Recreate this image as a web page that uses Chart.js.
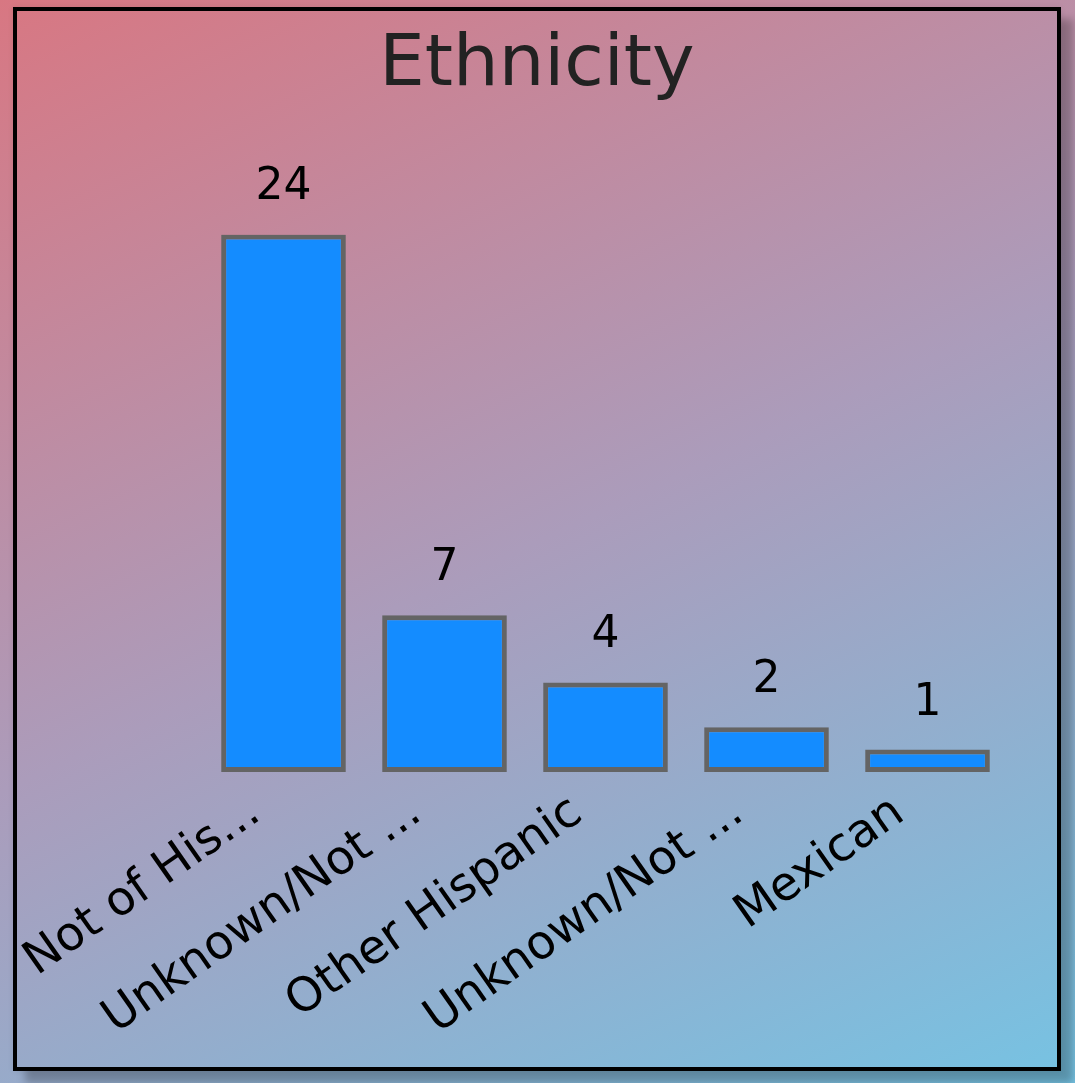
<!DOCTYPE html>
<html>
<head>
<meta charset="utf-8">
<script src="https://cdn.jsdelivr.net/npm/chart.js@4.4.0/dist/chart.umd.min.js"></script>
<style>
  html, body { margin: 0; padding: 0; width: 1075px; height: 1083px; overflow: hidden; }
  body { background: linear-gradient(155deg, #d87782 0%, #ab9cbb 50%, #76c3e3 100%); position: relative; }
  #frame { position: absolute; left: 13px; top: 7px; width: 1040px; height: 1056px; border: 4px solid #000;
           box-shadow: 12px 12px 8px rgba(0,0,0,0.25), 0 0 6px rgba(0,0,0,0.08); }
  canvas { display: block; }
</style>
</head>
<body>
<div id="frame"><canvas id="c" width="1040" height="1056"></canvas></div>
<script>
const categories = ["Not of His...", "Unknown/Not ...", "Other Hispanic", "Unknown/Not ...", "Mexican"];
const counts = [24, 7, 4, 2, 1];
const chartTitle = "Ethnicity";

const valueLabels = {
  id: 'valueLabels',
  afterDatasetsDraw(chart) {
    const ctx = chart.ctx;
    const meta = chart.getDatasetMeta(0);
    ctx.save();
    ctx.font = '44px "DejaVu Sans"';
    ctx.fillStyle = '#000';
    ctx.textAlign = 'center';
    ctx.textBaseline = 'alphabetic';
    meta.data.forEach((bar, i) => {
      ctx.fillText(String(counts[i]), bar.x, bar.y - 35);
    });
    ctx.restore();
  }
};

new Chart(document.getElementById('c'), {
  type: 'bar',
  data: {
    labels: categories,
    datasets: [{
      data: counts,
      backgroundColor: '#148cff',
      borderColor: '#646464',
      borderWidth: 5,
      borderSkipped: false,
      categoryPercentage: 0.8,
      barPercentage: 0.968
    }]
  },
  options: {
    responsive: false,
    animation: false,
    devicePixelRatio: 1,
    layout: { padding: 0 },
    plugins: {
      legend: { display: false },
      tooltip: { enabled: false },
      title: {
        display: true,
        text: chartTitle,
        color: '#222',
        font: { family: 'DejaVu Sans', size: 72, weight: 'normal', lineHeight: 1.2 },
        padding: { top: 12, bottom: 125 }
      }
    },
    scales: {
      y: { display: false, min: 0, max: 24 },
      x: {
        grid: { display: false, drawTicks: false },
        border: { display: false },
        ticks: {
          autoSkip: false,
          minRotation: 35,
          maxRotation: 35,
          padding: 13,
          labelOffset: -28,
          color: '#000',
          font: { family: 'DejaVu Sans', size: 47 }
        },
        afterFit(scale) {
          scale.paddingLeft = 186;
          scale.paddingRight = 49;
          scale.height = 295;
        }
      }
    }
  },
  plugins: [valueLabels]
});
</script>
</body>
</html>
